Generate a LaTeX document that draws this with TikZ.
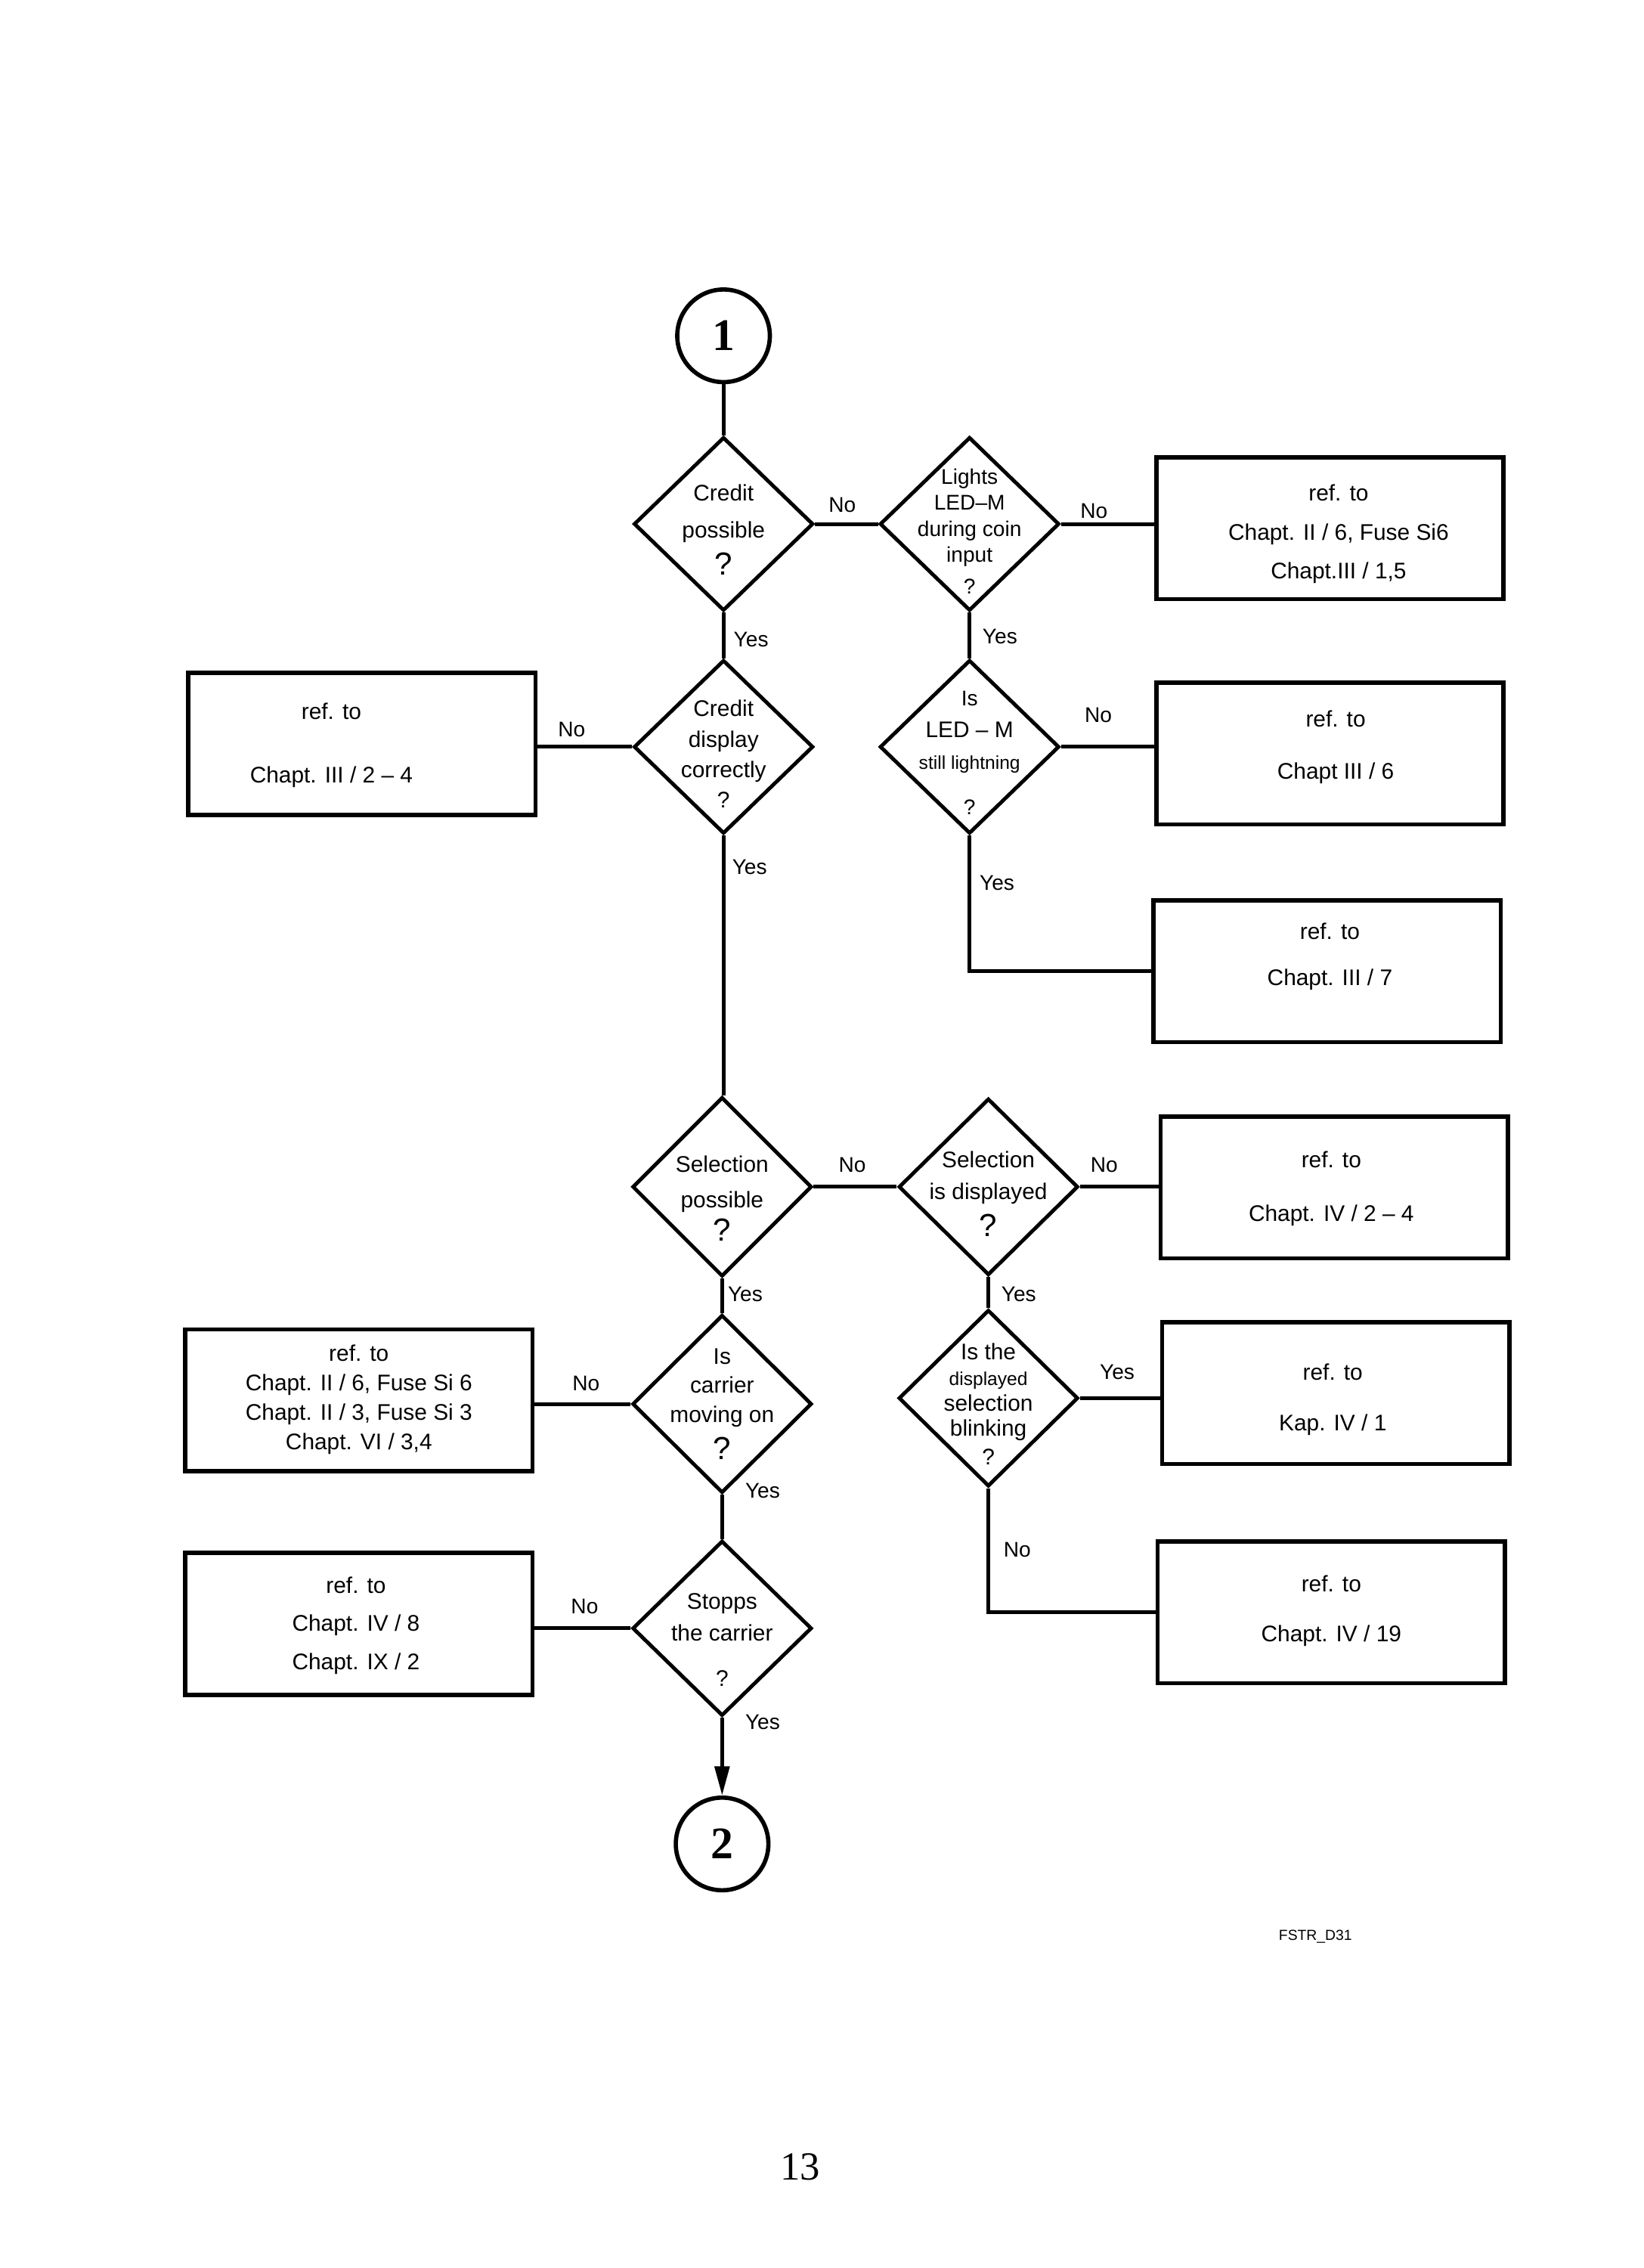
\documentclass[tikz,border=0pt]{standalone}
\usepackage{fontspec}
\setmainfont{Liberation Sans}
\newfontfamily\numfont{Liberation Serif}
\usetikzlibrary{shapes.geometric,arrows.meta}
\begin{document}
\begin{tikzpicture}[x=0.01915cm,y=-0.01915cm,
 ln/.style={line width=1.4pt},
 dia/.style={draw,diamond,line width=1.4pt,inner sep=0pt,minimum width=124*0.01915cm,minimum height=120*0.01915cm},
 box/.style={draw,rectangle,line width=1.6pt,inner sep=0pt,minimum width=240*0.01915cm,minimum height=98*0.01915cm},
 conn/.style={draw,circle,line width=1.6pt,minimum size=64*0.01915cm,inner sep=0pt,font=\numfont\bfseries\fontsize{17}{17}\selectfont},
 tx/.style={align=center,inner sep=0pt,font=\fontsize{8.5}{#1}\selectfont},
 lb/.style={inner sep=0pt,font=\fontsize{8}{9}\selectfont}
]
\useasboundingbox (0,0) rectangle (1136,1567);

% connectors (circles)
\node[conn] (c1) at (500,232) {1};
\node[conn] (c2) at (499,1274) {2};

% diamonds
\node[dia] (d1) at (500,362) {};
\node[dia] (d2) at (670,362) {};
\node[dia] (d3) at (500,516) {};
\node[dia] (d5) at (670,516) {};
\node[dia,minimum height=124*0.01915cm] (d4) at (499,820) {};
\node[dia,minimum height=122*0.01915cm] (d6) at (683,820) {};
\node[dia,minimum height=123*0.01915cm] (d7) at (499,970) {};
\node[dia,minimum height=121*0.01915cm] (d8) at (499,1125) {};
\node[dia,minimum height=122*0.01915cm] (d9) at (683,966) {};

% diamond texts
\node[tx=14pt] (t1) at (500,366) {Credit\\possible\\[0pt]{\fontsize{12}{12}\selectfont ?}};
\node[tx=9.8pt,font=\fontsize{8}{9.8pt}\selectfont] (t2) at (670,367) {Lights\\LED--M\\during coin\\input\\[2pt]?};
\node[tx=11.5pt] (t3) at (500,521) {Credit\\display\\correctly\\?};
\node[tx=12pt,font=\fontsize{8}{12pt}\selectfont] (t5) at (670,520) {Is\\{\fontsize{8.5}{8.5}\selectfont LED -- M}\\{\fontsize{7}{7}\selectfont still lightning}\\[5pt]?};
\node[tx=13.5pt] (t4) at (499,828) {Selection\\possible\\[-1pt]{\fontsize{12}{12}\selectfont ?}};
\node[tx=12pt] (t6) at (683,825) {Selection\\is displayed\\[2pt]{\fontsize{12}{12}\selectfont ?}};
\node[tx=11pt] (t7) at (499,970) {Is\\carrier\\moving on\\[3pt]{\fontsize{12}{12}\selectfont ?}};
\node[tx=12pt] (t8) at (499,1133) {Stopps\\the carrier\\[5pt]?};
\node[tx=9.6pt] (t9) at (683,970) {Is the\\{\fontsize{7}{7}\selectfont displayed}\\selection\\blinking\\[1pt]?};

% boxes
\node[box] (b1) at (919,365) {};
\node[box] (b2) at (250,514) {};
\node[box] (b3) at (919,520.5) {};
\node[box] (b4) at (917,671) {};
\node[box] (b5) at (922,820.5) {};
\node[box] (b6) at (248,967.5) {};
\node[box] (b7) at (248,1122) {};
\node[box] (b8) at (923,962.5) {};
\node[box] (b9) at (920,1114) {};

% box texts
\node[tx=14.7pt] (bt1) at (925,369) {ref. to\\Chapt. II / 6, Fuse Si6\\Chapt.III / 1,5};
\node[tx=24pt] (bt2) at (229,515) {ref. to\\Chapt. III / 2 -- 4};
\node[tx=19.6pt] (bt3) at (923,516) {ref. to\\Chapt III / 6};
\node[tx=17.4pt] (bt4) at (919,661) {ref. to\\Chapt. III / 7};
\node[tx=20.2pt] (bt5) at (920,821) {ref. to\\Chapt. IV / 2 -- 4};
\node[tx=11.1pt] (bt6) at (248,967) {ref. to\\Chapt. II / 6, Fuse Si 6\\Chapt. II / 3, Fuse Si 3\\Chapt. VI / 3,4};
\node[tx=14.4pt] (bt7) at (246,1123) {ref. to\\Chapt. IV / 8\\Chapt. IX / 2};
\node[tx=19pt] (bt8) at (921,967) {ref. to\\Kap. IV / 1};
\node[tx=19pt] (bt9) at (920,1113) {ref. to\\Chapt. IV / 19};

% connectors
\draw[ln] (c1) -- (d1.north);
\draw[ln] (d1.east) -- (d2.west);
\draw[ln] (d2.east) -- (d2.east -| b1.west);
\draw[ln] (d1.south) -- (d3.north);
\draw[ln] (d3.west) -- (d3.west -| b2.east);
\draw[ln] (d2.south) -- (d5.north);
\draw[ln] (d5.east) -- (d5.east -| b3.west);
\draw[ln] (d5.south) |- (b4.west);
\draw[ln] (d3.south) -- (d3.south |- d4.north);
\draw[ln] (d4.east) -- (d6.west);
\draw[ln] (d6.east) -- (d6.east -| b5.west);
\draw[ln] (d4.south) -- (d7.north);
\draw[ln] (d7.west) -- (d7.west -| b6.east);
\draw[ln] (d6.south) -- (d9.north);
\draw[ln] (d9.east) -- (d9.east -| b8.west);
\draw[ln] (d9.south) |- (b9.west);
\draw[ln] (d7.south) -- (d8.north);
\draw[ln] (d8.west) -- (d8.west -| b7.east);
\draw[ln,-{Triangle[length=11pt,width=5.5pt]}] (d8.south) -- (c2.north);

% labels
\node[lb] (l1) at (582,349) {No};
\node[lb] (l2) at (756,353) {No};
\node[lb] (l3) at (519,442) {Yes};
\node[lb] (l4) at (395,504) {No};
\node[lb] (l5) at (691,440) {Yes};
\node[lb] (l6) at (759,494) {No};
\node[lb] (l7) at (518,599) {Yes};
\node[lb] (l8) at (689,610) {Yes};
\node[lb] (l9) at (589,805) {No};
\node[lb] (l10) at (763,805) {No};
\node[lb] (l11) at (515,894) {Yes};
\node[lb] (l12) at (704,894) {Yes};
\node[lb] (l13) at (405,956) {No};
\node[lb] (l14) at (772,948) {Yes};
\node[lb] (l15) at (527,1030) {Yes};
\node[lb] (l16) at (703,1071) {No};
\node[lb] (l17) at (404,1110) {No};
\node[lb] (l18) at (527,1190) {Yes};

\node[inner sep=0pt,font=\fontsize{5.5}{6}\selectfont] (ref) at (909,1338) {FSTR\_D31};
\node[inner sep=0pt,font=\numfont\fontsize{15}{15}\selectfont] (page) at (553,1497) {13};
\end{tikzpicture}
\end{document}
